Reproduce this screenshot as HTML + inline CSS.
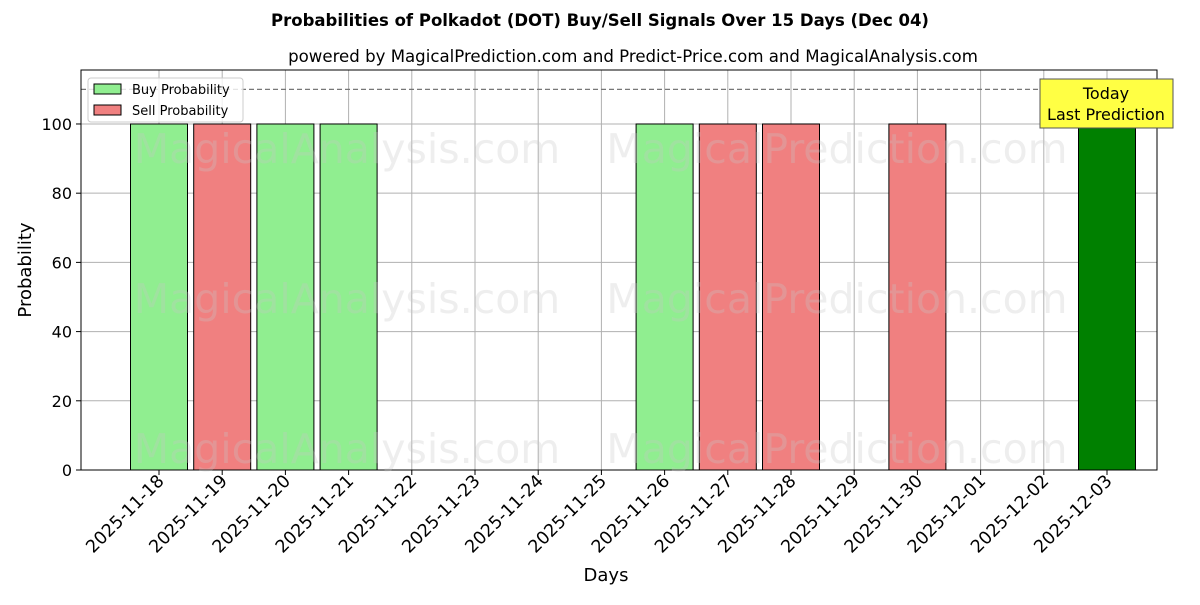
<!DOCTYPE html>
<html><head><meta charset="utf-8"><style>
body{margin:0;background:#fff;font-family:"Liberation Sans","DejaVu Sans",sans-serif;}
svg text{font-family:"DejaVu Sans","Liberation Sans",sans-serif;}
</style></head><body>
<svg id="c" width="1200" height="600" xmlns="http://www.w3.org/2000/svg">
<text x="600" y="26" text-anchor="middle" font-size="16.5" font-weight="bold">Probabilities of Polkadot (DOT) Buy/Sell Signals Over 15 Days (Dec 04)</text>
<text x="633" y="62" text-anchor="middle" font-size="16.6">powered by MagicalPrediction.com and Predict-Price.com and MagicalAnalysis.com</text>
<g id="grid"></g><g id="bars"></g><g id="axes"></g>
<g id="wm" fill="#c8c8c8" fill-opacity="0.3" font-size="41" text-anchor="middle">
<text x="347" y="163">MagicalAnalysis.com</text><text x="837" y="163">MagicalPrediction.com</text>
<text x="347" y="313">MagicalAnalysis.com</text><text x="837" y="313">MagicalPrediction.com</text>
<text x="347" y="463">MagicalAnalysis.com</text><text x="837" y="463">MagicalPrediction.com</text>
</g>
<text x="606" y="581" text-anchor="middle" font-size="18">Days</text>
<text transform="translate(31,270) rotate(-90)" text-anchor="middle" font-size="18">Probability</text>
<g>
<rect x="88" y="78" width="155" height="44" fill="#fff" fill-opacity="0.8" stroke="#ccc" rx="3"/>
<rect x="94" y="84" width="27" height="10" fill="#90ee90" stroke="#000"/>
<text x="132" y="94" font-size="13">Buy Probability</text>
<rect x="94" y="105" width="27" height="10" fill="#f08080" stroke="#000"/>
<text x="132" y="115" font-size="13">Sell Probability</text>
</g>
<g>
<rect x="1040" y="79" width="133" height="49" fill="#ffff44" stroke="#555"/>
<text x="1106" y="99" text-anchor="middle" font-size="16">Today</text>
<text x="1106" y="120" text-anchor="middle" font-size="16">Last Prediction</text>
</g>
</svg>
<script>
const days=["2025-11-18","2025-11-19","2025-11-20","2025-11-21","2025-11-22","2025-11-23","2025-11-24","2025-11-25","2025-11-26","2025-11-27","2025-11-28","2025-11-29","2025-11-30","2025-12-01","2025-12-02","2025-12-03"];
const buyValues=[100,0,100,100,0,0,0,0,100,0,0,0,0,0,0,0];
const sellValues=[0,100,0,0,0,0,0,0,0,100,100,0,100,0,0,0];
const todayValues=[0,0,0,0,0,0,0,0,0,0,0,0,0,0,0,100];
const yTicks=[0,20,40,60,80,100];
const thresholdValue=110;
const L=81,R=1157,T=70,B=470;
const xs=i=>159+i*63.2;
const ys=v=>B-v*(B-T)/115.6;
const NS="http://www.w3.org/2000/svg";
function mk(p,t,a){const e=document.createElementNS(NS,t);for(const k in a)e.setAttribute(k,a[k]);p.appendChild(e);return e;}
const g=document.getElementById('grid'),bg=document.getElementById('bars'),ax=document.getElementById('axes');
yTicks.forEach(v=>{
 const l=mk(g,'line',{x1:L,x2:R,y1:ys(v),y2:ys(v),stroke:'#b0b0b0','stroke-width':1});
 
 
 mk(ax,'line',{x1:L-5,x2:L,y1:ys(v),y2:ys(v),stroke:'#000'});
 const t=mk(ax,'text',{x:L-9,y:ys(v)+6,'text-anchor':'end','font-size':16});
 t.textContent=v;
 
 
});
days.forEach((d,i)=>{
 const x=xs(i);
 const l=mk(g,'line',{x1:x,x2:x,y1:T,y2:B,stroke:'#b0b0b0','stroke-width':1});
 
 
 mk(ax,'line',{x1:x,x2:x,y1:B,y2:B+5,stroke:'#000'});
 const t=mk(ax,'text',{x:0,y:0,'text-anchor':'end','font-size':17.5,transform:`translate(${x+6},${B+12}) rotate(-45)`});
 t.textContent=d;
 
 
});
const dl=mk(g,'line',{x1:L,x2:R,y1:ys(thresholdValue),y2:ys(thresholdValue),stroke:'#777','stroke-dasharray':'5,3','stroke-width':1.2});


function bars(vals,fill,name,stroke){
 vals.forEach((v,i)=>{if(!v)return;
  const r=mk(bg,'rect',{x:xs(i)-28.5,y:ys(v),width:57,height:B-ys(v),fill:fill,stroke:stroke,'stroke-width':1});
  
  
 });
}
bars(buyValues,'#90ee90','buy-bar','#000');
bars(sellValues,'#f08080','sell-bar','#000');
bars(todayValues,'#008000','today-bar','#000');
const f=mk(ax,'rect',{x:L,y:T,width:R-L,height:B-T,fill:'none',stroke:'#000','stroke-width':1});


</script>
</body></html>
